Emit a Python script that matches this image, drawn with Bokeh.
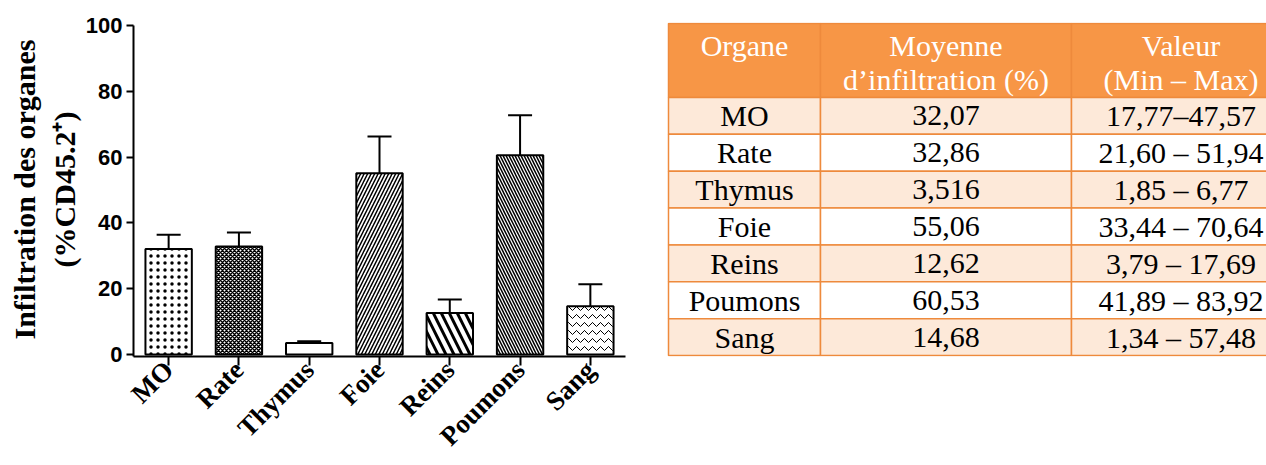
import math
from bokeh.plotting import figure
from bokeh.models import ColumnDataSource, Whisker, TeeHead, Range1d, FactorRange
from bokeh.layouts import row
from bokeh.embed import file_html
from bokeh.resources import INLINE
from bokeh.core.properties import value

# ---------------- data ----------------
organs = ["MO", "Rate", "Thymus", "Foie", "Reins", "Poumons", "Sang"]
means = [32.07, 32.86, 3.516, 55.06, 12.62, 60.53, 14.68]
sem = [4.3, 4.2, 0.5, 11.2, 4.1, 12.2, 6.7]
y_ticks = [0, 20, 40, 60, 80, 100]

header_line1 = ["Organe", "Moyenne", "Valeur"]
header_line2 = ["", "d’infiltration (%)", "(Min – Max)"]
table_means = ["32,07", "32,86", "3,516", "55,06", "12,62", "60,53", "14,68"]
table_ranges = ["17,77–47,57", "21,60 – 51,94", "1,85 – 6,77", "33,44 – 70,64",
                "3,79 – 17,69", "41,89 – 83,92", "1,34 – 57,48"]

# ---------------- styles ----------------
hatches = ["dot", "diagonal_cross", "blank", "right_diagonal_line",
           "left_diagonal_line", "left_diagonal_line", "horizontal_wave"]
hatch_scales = [7, 4, 8, 7, 16, 6, 8]
hatch_weights = [0.8, 1.5, 1, 1.5, 3, 1.5, 1]

ORANGE = "#F79646"
BORDER = "#EE8A3C"
LIGHT = "#FDE9D9"

W1, W2, H = 658, 608, 465
FRAME_TOP, FRAME_BOTTOM = 22, 109   # borders shared by both figures
Y0_PAD = -0.61                      # lets the bars sit on the x axis line

# ---------------- bar chart ----------------
src = ColumnDataSource(dict(
    organ=organs, mean=means,
    upper=[m + s for m, s in zip(means, sem)],
    hatch=hatches, hscale=hatch_scales, hweight=hatch_weights,
))

p = figure(width=W1, height=H,
           x_range=FactorRange(*organs, range_padding=0),
           y_range=Range1d(Y0_PAD, 100.91),
           output_backend="svg", toolbar_location=None,
           min_border_left=133, min_border_right=33,
           min_border_top=FRAME_TOP, min_border_bottom=FRAME_BOTTOM)
p.outline_line_color = None
p.xgrid.grid_line_color = None
p.ygrid.grid_line_color = None

p.vbar(x="organ", top="mean", bottom=0, width=0.66, source=src,
       fill_color="white", line_color="black", line_width=2,
       hatch_pattern="hatch", hatch_scale="hscale", hatch_weight="hweight",
       hatch_color="black")

wh = Whisker(base="organ", upper="upper", lower="mean", source=src,
             dimension="height", line_color="black", line_width=2,
             upper_head=TeeHead(size=24, line_width=2, line_color="black"),
             lower_head=None)
p.add_layout(wh)

p.yaxis.ticker = y_ticks
p.yaxis.bounds = (Y0_PAD, 100)
p.yaxis.axis_label = "Infiltration des organes\n(%CD45.2⁺)"
p.yaxis.axis_label_text_font = "Liberation Serif"
p.yaxis.axis_label_text_font_style = "bold"
p.yaxis.axis_label_text_font_size = "30px"
p.yaxis.axis_label_text_color = "black"
p.yaxis.axis_label_standoff = 2
p.yaxis.major_label_standoff = 4
p.yaxis.major_label_text_font = "Liberation Sans"
p.yaxis.major_label_text_font_style = "bold"
p.yaxis.major_label_text_font_size = "22px"
p.yaxis.major_label_text_color = "black"
p.yaxis.major_tick_out = 7
p.yaxis.major_tick_in = 0
p.yaxis.minor_tick_out = 0
p.yaxis.minor_tick_in = 0

p.xaxis.major_label_orientation = math.pi / 4
p.xaxis.major_label_standoff = 0
p.xaxis.major_label_text_font = "Liberation Serif"
p.xaxis.major_label_text_font_style = "bold"
p.xaxis.major_label_text_font_size = "27px"
p.xaxis.major_label_text_color = "black"
p.xaxis.major_tick_out = 9
p.xaxis.major_tick_in = 0

for ax in (p.xaxis, p.yaxis):
    ax.axis_line_width = 2
    ax.axis_line_color = "black"
    ax.major_tick_line_width = 2
    ax.major_tick_line_color = "black"

# ---------------- table ----------------
t = figure(width=W2, height=H,
           x_range=Range1d(W1, W1 + W2), y_range=Range1d(H - FRAME_BOTTOM, FRAME_TOP),
           x_axis_type=None, y_axis_type=None,
           output_backend="svg", toolbar_location=None,
           min_border_left=0, min_border_right=0,
           min_border_top=FRAME_TOP, min_border_bottom=FRAME_BOTTOM)
t.outline_line_color = None
t.xgrid.grid_line_color = None
t.ygrid.grid_line_color = None

col_edges = [668, 820, 1071, 1290]
header_top, header_bottom = 23, 97
row_h = (355 - header_bottom) / len(organs)
ncols = len(header_line1)
col_centers = [(col_edges[j] + col_edges[j + 1]) / 2 for j in range(ncols)]

t.quad(left=col_edges[:-1], right=col_edges[1:],
       top=[header_top] * ncols, bottom=[header_bottom] * ncols,
       fill_color=ORANGE, line_color=BORDER, line_width=1.5)

lefts, rights, tops, bottoms, fills = [], [], [], [], []
for i in range(len(organs)):
    for j in range(ncols):
        lefts.append(col_edges[j]); rights.append(col_edges[j + 1])
        tops.append(header_bottom + i * row_h)
        bottoms.append(header_bottom + (i + 1) * row_h)
        fills.append(LIGHT if i % 2 == 0 else "white")
t.quad(left=lefts, right=rights, top=tops, bottom=bottoms,
       fill_color=fills, line_color=BORDER, line_width=1.5)

t.text(x=col_centers, y=[45] * ncols, text=header_line1,
       text_font=value("Liberation Serif"), text_font_size="30px",
       text_color="white", text_align="center", text_baseline="middle")
t.text(x=col_centers, y=[79] * ncols, text=header_line2,
       text_font=value("Liberation Serif"), text_font_size="30px",
       text_color="white", text_align="center", text_baseline="middle")

row_centers = [header_bottom + (i + 0.5) * row_h for i in range(len(organs))]
for j, col in enumerate([organs, table_means, table_ranges]):
    t.text(x=[col_centers[j]] * len(col), y=row_centers, text=col,
           text_font=value("Liberation Serif"), text_font_size="30px",
           text_color="black", text_align="center", text_baseline="middle")

layout = row(p, t)
open("out.html", "w").write(file_html(layout, INLINE))
